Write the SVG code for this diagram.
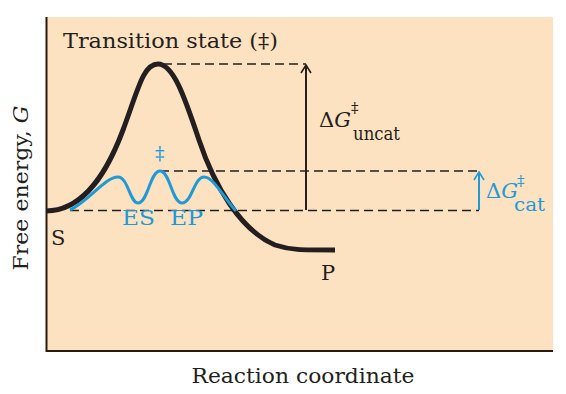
<svg xmlns="http://www.w3.org/2000/svg" width="566" height="394" viewBox="0 0 566 394">
<defs>
<style>
text{font-family:"DejaVu Serif","Liberation Serif",serif;fill:#231f20}
.b{fill:#1e9ad6}
.dash{stroke:#231f20;stroke-width:1.3;stroke-dasharray:9 5;fill:none}
</style>
<marker id="ak" markerWidth="12" markerHeight="12" refX="10" refY="6" orient="auto" markerUnits="userSpaceOnUse" viewBox="0 0 12 12"><path d="M2,1 L10,6 L2,11" fill="none" stroke="#231f20" stroke-width="1.6"/></marker>
<marker id="ab" markerWidth="12" markerHeight="12" refX="10" refY="6" orient="auto" markerUnits="userSpaceOnUse" viewBox="0 0 12 12"><path d="M2,1 L10,6 L2,11" fill="none" stroke="#1e9ad6" stroke-width="1.6"/></marker>
</defs>
<rect x="0" y="0" width="566" height="394" fill="#fff"/>
<rect x="46" y="17" width="507" height="334" fill="#fde2c2"/>
<g id="axes" stroke="#2a1a10" stroke-width="2" fill="none">
<path d="M46.5,17 V351 H553"/>
</g>
<g id="connectors">
<path class="dash" d="M163,64 H306"/>
<path class="dash" d="M160,171 H479"/>
<path class="dash" d="M70,210.5 H479"/>
<path d="M306,210 V65" stroke="#231f20" stroke-width="2" marker-end="url(#ak)"/>
<path d="M479,210 V172" stroke="#1e9ad6" stroke-width="2" marker-end="url(#ab)"/>
</g>
<g id="uncat-curve">
<path d="M46,211 C85,211 108,170 123,130 C138,90 143,64 158,64 C173,64 184,95 199,140 C214,185 240,230 275,245 C290,250 300,250 335,250" fill="none" stroke="#231f20" stroke-width="5"/>
</g>
<g id="cat-curve">
<path d="M70,210 C90,200 105,177 118,177 C128,177 130,203 138,203 C148,203 150,171 160,171 C170,171 172,203 182,203 C192,203 194,177 204,177 C214,177 225,200 236,211" fill="none" stroke="#1e9ad6" stroke-width="3"/>
</g>
<g id="labels">
<text x="63" y="48" font-size="21" textLength="215" lengthAdjust="spacingAndGlyphs">Transition state (‡)</text>
<text class="b" x="155" y="160" font-size="19">‡</text>
<text class="b" x="122" y="225" font-size="21" textLength="33" lengthAdjust="spacingAndGlyphs">ES</text>
<text class="b" x="170" y="225" font-size="21" textLength="33" lengthAdjust="spacingAndGlyphs">EP</text>
<text x="51" y="245" font-size="21">S</text>
<text x="321" y="280" font-size="21">P</text>
<text x="319" y="127" font-size="21">Δ<tspan font-style="italic">G</tspan></text>
<text x="351" y="113" font-size="15">‡</text>
<text x="353" y="140" font-size="19" textLength="47" lengthAdjust="spacingAndGlyphs">uncat</text>
<text class="b" x="486" y="198" font-size="21">Δ<tspan font-style="italic">G</tspan></text>
<text class="b" x="517" y="186" font-size="15">‡</text>
<text class="b" x="514" y="211" font-size="19" textLength="31" lengthAdjust="spacingAndGlyphs">cat</text>
<text x="28" y="188" font-size="21" text-anchor="middle" textLength="165" lengthAdjust="spacingAndGlyphs" transform="rotate(-90 28 188)">Free energy, <tspan font-style="italic">G</tspan></text>
<text x="303" y="383" font-size="21" text-anchor="middle" textLength="223" lengthAdjust="spacingAndGlyphs">Reaction coordinate</text>
</g>
</svg>
